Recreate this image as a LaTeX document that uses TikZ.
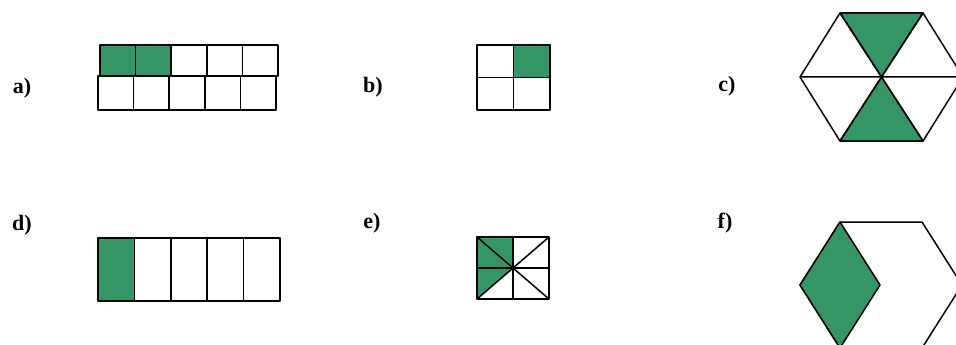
\documentclass[tikz,border=0pt]{standalone}
\usepackage{fontspec}
\setmainfont{Liberation Serif}
\definecolor{fracgreen}{RGB}{52,150,100}
\tikzset{
  part/.style={font=\bfseries\fontsize{22}{24}\selectfont, inner sep=0pt},
  piece/.style={draw=black, line width=1.5pt, line join=round},
  shaded/.style={piece, fill=fracgreen}
}
\begin{document}
\begin{tikzpicture}[x=1pt,y=-1pt]
    \useasboundingbox (0,0) rectangle (956,345);
    \clip (0,0) rectangle (956,345);
    % a) two rows of five squares
    \node[part] (la) at (22,88) {a)};
    \foreach \i/\c in {0/fracgreen,1/fracgreen,2/white,3/white,4/white}
        \draw[piece,fill=\c] ({100+35.6*\i},45) rectangle ++(35.6,31);
    \foreach \i in {0,...,4}
        \draw[piece] ({98+35.6*\i},76) rectangle ++(35.6,34);
    % b) square in quarters
    \node[part] (lb) at (373,87) {b)};
    \draw[shaded] (513.5,45) rectangle (550,77.5);
    \draw[piece] (477,45) rectangle (550,110);
    \draw[piece] (513.5,45) -- (513.5,110) (477,77.5) -- (550,77.5);
    % c) hexagon in sixths
    \node[part] (lc) at (727,86) {c)};
    \draw[shaded] (840,13) -- (923,13) -- (881.5,77) -- cycle;
    \draw[shaded] (840,141) -- (923,141) -- (881.5,77) -- cycle;
    \draw[piece] (840,13) -- (923,13) -- (963,77) -- (923,141) -- (840,141) -- (800,77) -- cycle;
    \draw[piece] (800,77) -- (963,77) (840,13) -- (923,141) (923,13) -- (840,141);
    % d) strip of five
    \node[part] (ld) at (22,225) {d)};
    \foreach \i/\c in {0/fracgreen,1/white,2/white,3/white,4/white}
        \draw[piece,fill=\c] ({98+36.4*\i},238) rectangle ++(36.4,63);
    % e) square in eighths
    \node[part] (le) at (372,223) {e)};
    \fill[fracgreen] (477,237) rectangle (513,268);
    \fill[fracgreen] (477,268) -- (513,268) -- (477,299) -- cycle;
    \draw[piece] (477,237) rectangle (549,299);
    \draw[piece] (513,237) -- (513,299) (477,268) -- (549,268);
    \draw[piece] (477,237) -- (549,299) (549,237) -- (477,299);
    % f) hexagon with one rhombus
    \node[part] (lf) at (725,223) {f)};
    \draw[piece] (840,222) -- (922,222) -- (962,285) -- (922,348) -- (840,348) -- (800,285) -- cycle;
    \draw[shaded] (840,222) -- (880,285) -- (840,348) -- (800,285) -- cycle;
\end{tikzpicture}
\end{document}
